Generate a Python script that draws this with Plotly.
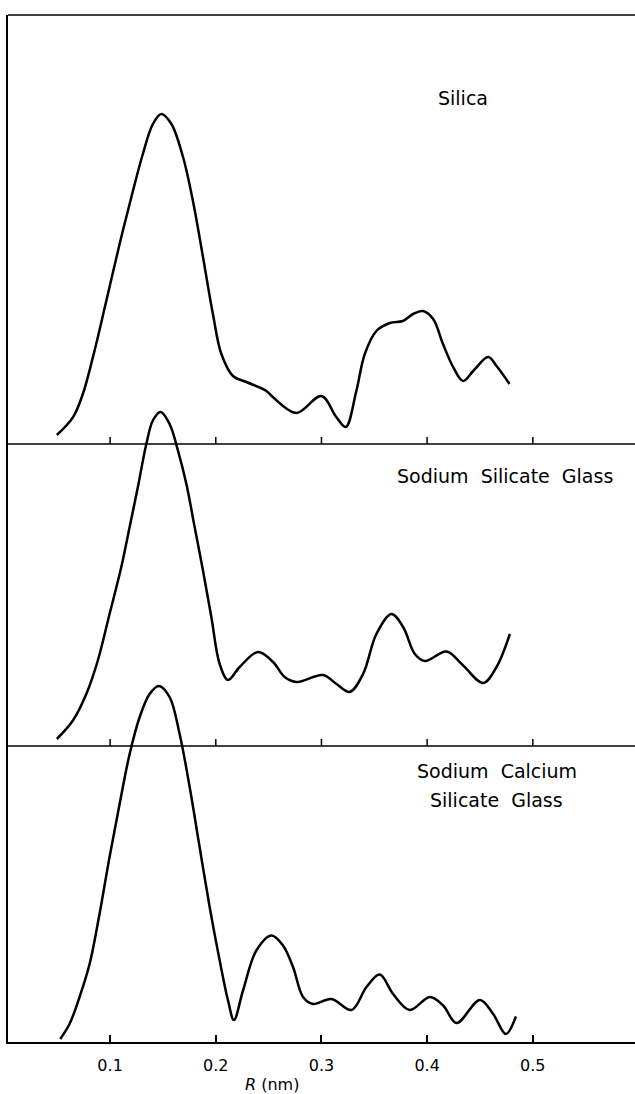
import plotly.graph_objects as go

# R (nm) and G(R) heights (arbitrary units, relative to each panel's baseline)
silica_r = [0.0496, 0.0648, 0.0742, 0.0837, 0.0964, 0.109, 0.1216, 0.131, 0.1405, 0.1485,
            0.158, 0.169, 0.1784, 0.1879, 0.1973, 0.2053, 0.2163, 0.229, 0.248, 0.254,
            0.2763, 0.300, 0.314, 0.323, 0.333, 0.341, 0.352, 0.3647, 0.377, 0.3867,
            0.396, 0.4057, 0.415, 0.4246, 0.434, 0.4436, 0.4578, 0.4657, 0.478]
silica_g = [9, 26.6, 50, 86.6, 143, 200, 253, 290, 320, 330,
            320, 287, 243, 187, 130, 90, 68, 62, 53, 47,
            31, 48, 27, 17, 53, 90, 113, 121, 123, 130,
            133, 125, 100, 77, 63, 73, 87, 78, 60]

nasil_r = [0.0496, 0.0648, 0.0775, 0.0884, 0.0995, 0.1106, 0.1185, 0.1263, 0.1343, 0.1405,
           0.1478, 0.1563, 0.1642, 0.1722, 0.180, 0.1879, 0.1958, 0.2037, 0.2116, 0.2226,
           0.240, 0.2542, 0.2652, 0.2763, 0.3015, 0.3142, 0.3268, 0.3394, 0.352, 0.3663,
           0.3773, 0.3884, 0.3978, 0.4184, 0.4341, 0.453, 0.4657, 0.4783]
nasil_g = [7, 25.5, 52, 85.5, 132, 179, 219, 259, 302, 325.5,
           334, 322, 295.5, 262, 219, 175.5, 129, 82, 66, 79,
           94, 84, 69, 64, 71, 62, 54, 72, 112, 132,
           119, 92, 85, 94.5, 80.5, 63, 79, 112]

nacasil_r = [0.0528, 0.0616, 0.0711, 0.0806, 0.090, 0.0995, 0.109, 0.1185, 0.128, 0.1374,
             0.1462, 0.1563, 0.1658, 0.1753, 0.1847, 0.1942, 0.2037, 0.2116, 0.2172, 0.2258,
             0.2384, 0.2527, 0.2636, 0.2731, 0.2826, 0.292, 0.3095, 0.3284, 0.3426, 0.3552,
             0.3678, 0.3836, 0.4026, 0.4152, 0.4278, 0.4499, 0.4625, 0.4745, 0.484]
nacasil_g = [3, 18, 45, 78, 128, 185, 238, 288, 325, 348,
             356, 345, 308, 255, 195, 135, 81.5, 41.5, 22, 51.5,
             91.5, 106.5, 96.5, 75, 45, 38, 43, 32, 55, 67.5,
             48, 32, 45, 36.5, 19, 42, 28, 8, 25.5]

tick_vals = [0.1, 0.2, 0.3, 0.4, 0.5]
tick_text = ["0.1", "0.2", "0.3", "0.4", "0.5"]
labels = ["Silica", "Sodium  Silicate  Glass", "Sodium  Calcium", "Silicate  Glass"]

# layout constants (vertical offsets of the stacked panels)
OFFSETS = [598, 296, 0]
X_RANGE = [0.0034, 0.5967]
Y_TOP = 1027
FONT = "DejaVu Sans"

fig = go.Figure()
for (r, g), off in zip([(silica_r, silica_g), (nasil_r, nasil_g), (nacasil_r, nacasil_g)], OFFSETS):
    fig.add_trace(go.Scatter(x=r, y=[v + off for v in g], mode="lines",
                             line=dict(color="black", width=2.5, shape="spline", smoothing=1.0),
                             showlegend=False, hoverinfo="skip"))

shapes = []
# top frame line
shapes.append(dict(type="line", xref="paper", yref="paper", x0=0, x1=1, y0=1, y1=1,
                   line=dict(color="black", width=1.5)))
# inner baselines with ticks
for off in OFFSETS[:2]:
    shapes.append(dict(type="line", xref="paper", yref="y", x0=0, x1=1, y0=off, y1=off,
                       line=dict(color="black", width=1.5)))
    for t in tick_vals:
        shapes.append(dict(type="line", xref="x", yref="y", x0=t, x1=t, y0=off, y1=off + 7,
                           line=dict(color="black", width=1.5)))

annotations = [
    dict(x=0.434, y=944, xref="x", yref="y", text=labels[0]),
    dict(x=0.474, y=566, xref="x", yref="y", text=labels[1]),
    dict(x=0.466, y=271, xref="x", yref="y", text=labels[2]),
    dict(x=0.466, y=242, xref="x", yref="y", text=labels[3]),
    dict(x=0.253, y=-42 / Y_TOP, xref="x", yref="paper", text="<i>R</i> (nm)"),
]
for a in annotations:
    a.update(showarrow=False, font=dict(family=FONT, size=19, color="black"),
             align="center", yanchor="middle")
annotations[-1]["font"] = dict(family=FONT, size=16, color="black")

fig.update_layout(
    width=635, height=1094,
    margin=dict(l=8, r=0, t=15, b=52),
    paper_bgcolor="white", plot_bgcolor="white",
    shapes=shapes, annotations=annotations,
    xaxis=dict(range=X_RANGE, showgrid=False, zeroline=False, showline=True,
               linecolor="black", linewidth=1.5, ticks="inside", ticklen=7, tickwidth=1.5,
               tickcolor="black", tickvals=tick_vals, ticktext=tick_text,
               ticklabelstandoff=8,
               tickfont=dict(family=FONT, size=16, color="black")),
    yaxis=dict(range=[0, Y_TOP], showgrid=False, zeroline=False, showline=True,
               linecolor="black", linewidth=1.5, showticklabels=False, ticks=""),
)
fig.write_html("out.html")
